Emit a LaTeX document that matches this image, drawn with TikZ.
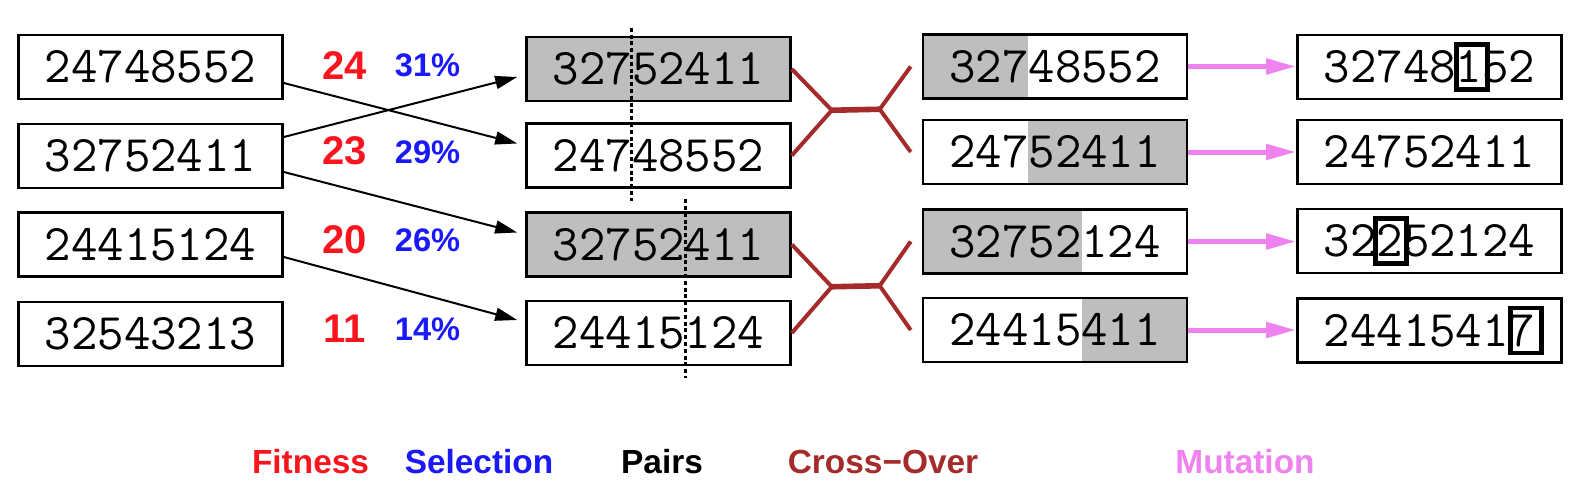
\documentclass[tikz,border=0pt]{standalone}
\usepackage{fontspec}
\setsansfont{Liberation Sans}
\usetikzlibrary{arrows.meta,positioning,calc}

\definecolor{genegray}{RGB}{190,190,190}
\definecolor{fitred}{RGB}{250,20,30}
\definecolor{selblue}{RGB}{25,25,250}
\definecolor{xbrown}{RGB}{165,42,42}
\definecolor{mutpink}{RGB}{238,130,238}

\begin{document}
\begin{tikzpicture}[
    x=0.5pt, y=-0.5pt,
    gene/.style={rectangle, draw, line width=1.3pt, minimum width=132pt, minimum height=32pt, inner sep=0pt, font=\ttfamily\fontsize{25.7}{26}\selectfont},
    graylead/.style={path picture={\fill[genegray] (path picture bounding box.south west) rectangle ($(path picture bounding box.north)+(#1,0)$);}},
    graytail/.style={path picture={\fill[genegray] ($(path picture bounding box.south)+(#1,0)$) rectangle (path picture bounding box.north east);}},
    fitval/.style={text=fitred, font=\sffamily\bfseries\fontsize{20}{22}\selectfont},
    selval/.style={text=selblue, font=\sffamily\bfseries\fontsize{16.3}{18}\selectfont},
    caption/.style={font=\sffamily\bfseries\fontsize{16.7}{18}\selectfont},
    pick/.style={-{Stealth[inset=0pt, length=11pt, width=6.5pt]}, line width=1pt},
    cross/.style={draw=xbrown, line width=2pt},
    mutate/.style={-{Stealth[inset=0pt, length=15pt, width=7.5pt]}, draw=mutpink, line width=2.5pt},
    cut/.style={line width=1.3pt, dash pattern=on 2pt off 1.4pt},
    flip/.style={line width=2.4pt}
]
\useasboundingbox (0,0) rectangle (1580,498);

% Population
\node[gene] (pop1) at (150.5,67) {24748552};
\node[gene] (pop2) at (150.5,156) {32752411};
\node[gene] (pop3) at (150.5,244.5) {24415124};
\node[gene] (pop4) at (150.5,334) {32543213};

% Fitness and selection share
\node[fitval] (fit1) at (344.5,65.5) {24};
\node[fitval] (fit2) at (344.5,151) {23};
\node[fitval] (fit3) at (344.5,240) {20};
\node[fitval] (fit4) at (344.5,329) {11};
\node[selval] (sel1) at (427.5,65) {31\%};
\node[selval] (sel2) at (427.5,152) {29\%};
\node[selval] (sel3) at (427.5,240.5) {26\%};
\node[selval] (sel4) at (427.5,329.5) {14\%};

% Pairs
\node[gene, fill=genegray] (par1) at (658.5,69) {32752411};
\node[gene] (par2) at (658.5,155.5) {24748552};
\node[gene, fill=genegray] (par3) at (658.5,244.5) {32752411};
\node[gene] (par4) at (658.5,333) {24415124};

% Cut points
\draw[cut] ($(par1.north)+(-27,-8)$) -- ($(par2.south)+(-27,12)$);
\draw[cut] ($(par3.north)+(27,-12)$) -- ($(par4.south)+(27,12)$);

% Selection arrows
\draw[pick] ($(pop1.east)+(0,16)$) -- ($(par2.west)+(-8,-12)$);
\draw[pick] ($(pop2.east)+(0,-19)$) -- ($(par1.west)+(-8,8)$);
\draw[pick] ($(pop2.east)+(0,16)$) -- ($(par3.west)+(-8,-12)$);
\draw[pick] ($(pop3.east)+(0,12.5)$) -- ($(par4.west)+(-8,-13)$);

% Offspring after cross-over
\node[gene, graylead=-27] (kid1) at (1055,66.5) {32748552};
\node[gene, graytail=-27] (kid2) at (1055,152) {24752411};
\node[gene, graylead=27] (kid3) at (1055,241.5) {32752124};
\node[gene, graytail=27] (kid4) at (1055,330) {24415411};

% Cross-over connectors
\coordinate (xa1) at ($(par1.east)!0.5!(par2.east)+(40,-2)$);
\coordinate (xb1) at ($(kid1.west)!0.5!(kid2.west)+(-42,0)$);
\coordinate (xa2) at ($(par3.east)!0.5!(par4.east)+(40,-2)$);
\coordinate (xb2) at ($(kid3.west)!0.5!(kid4.west)+(-42,0)$);
\draw[cross] (par1.east) -- (xa1) -- (par2.east);
\draw[cross] ($(kid1.west)+(-11,0)$) -- (xb1) -- ($(kid2.west)+(-11,0)$);
\draw[cross, line width=2.8pt] (xa1) -- (xb1);
\draw[cross] (par3.east) -- (xa2) -- (par4.east);
\draw[cross] ($(kid3.west)+(-11,0)$) -- (xb2) -- ($(kid4.west)+(-11,0)$);
\draw[cross, line width=2.8pt] (xa2) -- (xb2);

% Mutated offspring
\node[gene] (mut1) at (1429.5,67) {32748152};
\node[gene] (mut2) at (1429.5,152) {24752411};
\node[gene] (mut3) at (1429.5,241) {32252124};
\node[gene] (mut4) at (1429.5,330.5) {24415417};

% Mutated digits
\draw[flip] ($(mut1.center)+(42.5,0)$) +(-15.5,-22.5) rectangle +(15.5,22.5);
\draw[flip] ($(mut3.center)+(-38.5,0)$) +(-15.5,-22.5) rectangle +(15.5,22.5);
\draw[flip] ($(mut4.center)+(96.5,0)$) +(-15.5,-22.5) rectangle +(15.5,22.5);

% Mutation arrows
\draw[mutate] (kid1.east) -- (kid1.east -| mut1.west);
\draw[mutate] (kid2.east) -- (kid2.east -| mut2.west);
\draw[mutate] (kid3.east) -- (kid3.east -| mut3.west);
\draw[mutate] (kid4.east) -- (kid4.east -| mut4.west);

% Step captions
\node[caption, text=fitred] (capfit) at (310.5,462) {Fitness};
\node[caption, text=selblue] (capsel) at (479,462) {Selection};
\node[caption] (cappair) at (662,462) {Pairs};
\node[caption, text=xbrown] (capcross) at (883,462) {Cross−Over};
\node[caption, text=mutpink] (capmut) at (1245,462) {Mutation};

\end{tikzpicture}
\end{document}
